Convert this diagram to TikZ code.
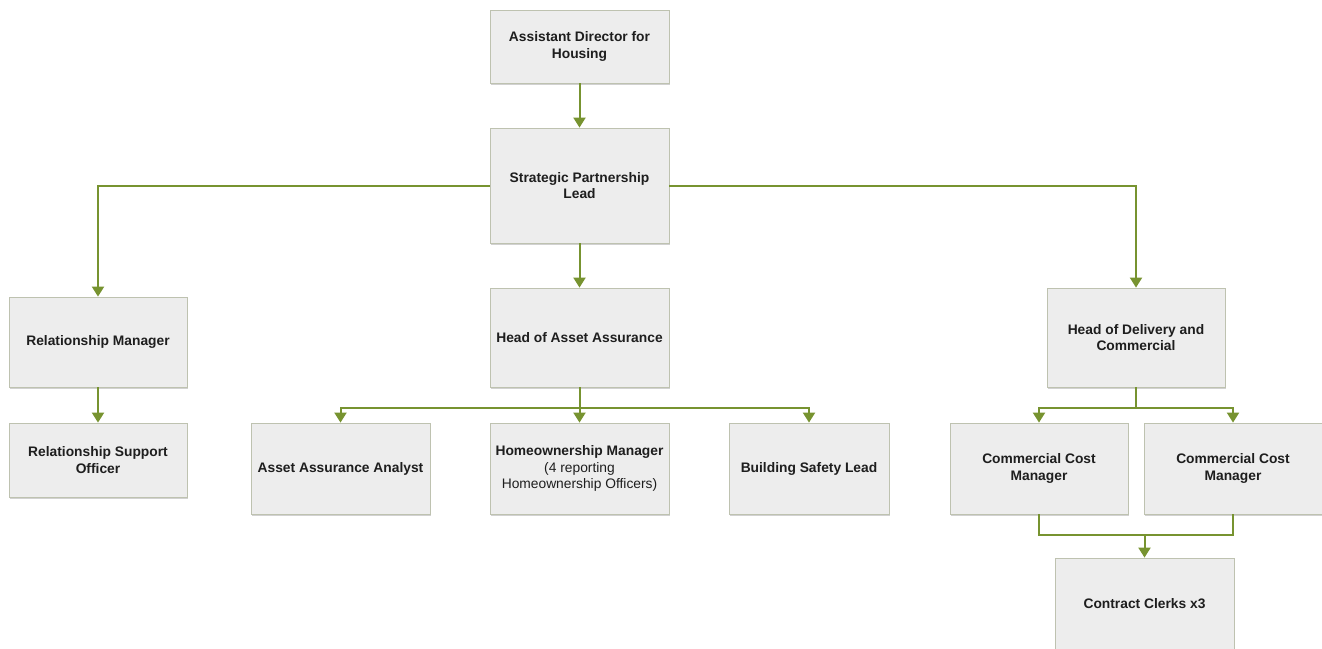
\documentclass[tikz,border=0pt]{standalone}
\usepackage{fontspec}
\setmainfont{Liberation Sans}
\usetikzlibrary{arrows.meta,shadows}
\definecolor{olive}{RGB}{119,147,48}
\definecolor{boxfill}{RGB}{237,237,237}
\definecolor{boxline}{RGB}{190,194,176}
\definecolor{boxtext}{RGB}{30,30,30}
\tikzset{
  orgbox/.style={draw=boxline, line width=0.8pt, fill=boxfill, inner sep=0pt, align=center,
    text=boxtext, font=\fontsize{13.8}{16.8}\selectfont\bfseries,
    drop shadow={shadow xshift=1.2pt, shadow yshift=-1.5pt, opacity=0.3, fill=black!60}},
  link/.style={draw=olive, line width=2pt},
  arr/.style={link, -{Triangle[width=12pt,length=10pt]}}
}
\begin{document}
\begin{tikzpicture}[x=1pt,y=-1pt]
\useasboundingbox (0,0) rectangle (1322,648);
\node[orgbox, minimum width=179, minimum height=73] (ad) at (579.5,46.5) {Assistant Director for\\Housing};
\node[orgbox, minimum width=179, minimum height=115] (spl) at (579.5,185.5) {Strategic Partnership\\Lead};
\node[orgbox, minimum width=178, minimum height=90] (rm) at (98,342) {Relationship Manager};
\node[orgbox, minimum width=179, minimum height=99] (haa) at (579.5,337.5) {Head of Asset Assurance};
\node[orgbox, minimum width=178, minimum height=99] (hdc) at (1136,337.5) {Head of Delivery and\\Commercial};
\node[orgbox, minimum width=178, minimum height=74] (rso) at (98,460) {Relationship Support\\Officer};
\node[orgbox, minimum width=179, minimum height=91] (aaa) at (340.5,468.5) {Asset Assurance Analyst};
\node[orgbox, minimum width=179, minimum height=91] (hom) at (579.5,468.5) {Homeownership Manager\\\mdseries(4 reporting\\\mdseries Homeownership Officers)};
\node[orgbox, minimum width=160, minimum height=91] (bsl) at (809,468.5) {Building Safety Lead};
\node[orgbox, minimum width=178, minimum height=91] (ccm1) at (1039,468.5) {Commercial Cost\\Manager};
\node[orgbox, minimum width=178, minimum height=91] (ccm2) at (1233,468.5) {Commercial Cost\\Manager};
\node[orgbox, minimum width=179, minimum height=92] (cc) at (1144.5,604) {Contract Clerks x3};
\coordinate (hb) at (579.5,408);
\coordinate (db) at (1136,408);
\coordinate (cb) at (1144.5,535);
\draw[arr] (ad) -- (spl);
\draw[arr] (spl.west) -| (rm.north);
\draw[arr] (spl.east) -| (hdc.north);
\draw[arr] (spl) -- (haa);
\draw[arr] (rm) -- (rso);
\draw[link] (haa.south) -- (hb);
\draw[arr] (hb) -| (aaa.north);
\draw[arr] (hb) -| (bsl.north);
\draw[arr] (hb) -- (hom.north);
\draw[link] (hdc.south) -- (db);
\draw[arr] (db) -| (ccm1.north);
\draw[arr] (db) -| (ccm2.north);
\draw[link] (ccm1.south) |- (cb);
\draw[link] (ccm2.south) |- (cb);
\draw[arr] (cb) -- (cc.north);
\end{tikzpicture}
\end{document}
